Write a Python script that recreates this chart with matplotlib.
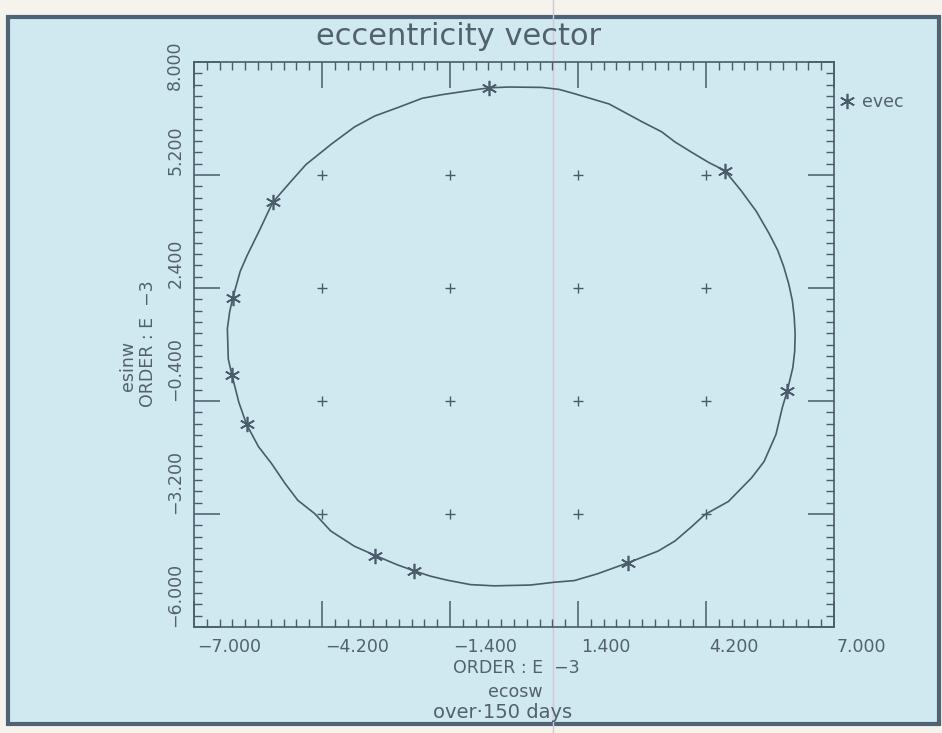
import numpy as np
import matplotlib
matplotlib.use('Agg')
import matplotlib.pyplot as plt
from matplotlib.lines import Line2D
from matplotlib.patches import Rectangle
from matplotlib.ticker import FixedLocator
import matplotlib.transforms as mtrans

# ---------------- data (units of 1e-3) ----------------
orbit_x = [-0.55, -0.11, 0.615, 0.99, 1.336, 2.08, 2.80, 3.23, 3.52, 3.89,
           4.26, 4.61, 4.97, 5.30, 5.58, 5.77, 5.90, 6.01, 6.09, 6.13,
           6.15, 6.14, 6.10, 5.98, 5.87, 5.73, 5.47, 5.20, 4.69, 4.18,
           3.87, 3.52, 3.15, 2.49, 1.83, 1.32, 0.89, 0.36, -0.43, -0.95,
           -1.46, -1.83, -2.18, -2.55, -3.03, -3.49, -4.01, -4.36, -4.73, -5.01,
           -5.31, -5.59, -5.85, -6.02, -6.08, -6.17, -6.25, -6.27, -6.22, -6.15,
           -5.99, -5.84, -5.55, -5.28, -4.88, -4.55, -3.99, -3.49, -3.05, -2.52,
           -2.01, -1.58, -0.98]
orbit_y = [7.36, 7.38, 7.37, 7.32, 7.21, 6.96, 6.52, 6.27, 6.02, 5.76,
           5.51, 5.31, 4.81, 4.30, 3.75, 3.33, 2.93, 2.50, 2.08, 1.68,
           1.26, 0.83, 0.43, -0.14, -0.56, -1.23, -1.90, -2.30, -2.89, -3.21,
           -3.53, -3.87, -4.12, -4.41, -4.68, -4.85, -4.89, -4.96, -4.98, -4.95,
           -4.84, -4.74, -4.61, -4.46, -4.23, -4.00, -3.62, -3.19, -2.86, -2.44,
           -1.94, -1.53, -0.98, -0.43, -0.16, 0.24, 0.64, 1.39, 1.81, 2.16,
           2.81, 3.20, 3.87, 4.52, 5.04, 5.46, 5.97, 6.39, 6.66, 6.88,
           7.10, 7.19, 7.29]

evec_x = [-0.55, 4.61, -5.28, -6.15, -6.17, -5.85, 5.98, -3.03, -2.18, 2.49]
evec_y = [7.36, 5.31, 4.52, 2.16, 0.24, -0.98, -0.14, -4.23, -4.61, -4.41]

x_ticks = [-7.0, -4.2, -1.4, 1.4, 4.2, 7.0]
y_ticks = [-6.0, -3.2, -0.4, 2.4, 5.2, 8.0]
x_tick_labels = ['\u22127.000', '\u22124.200', '\u22121.400', '1.400', '4.200', '7.000']
y_tick_labels = ['\u22126.000', '\u22123.200', '\u22120.400', '2.400', '5.200', '8.000']

title = 'eccentricity vector'
x_order = 'ORDER : E  \u22123'
x_name = 'ecosw'
x_note = 'over\u00b7150 days'
y_order = 'ORDER : E  \u22123'
y_name = 'esinw'
series_label = 'evec'

# ---------------- style ----------------
W, H = 942, 733
BG = '#d0e8f0'
PAPER = '#f5f3ec'
BORDER = '#4f6375'
INK = '#4a5b6a'
TEXT = '#52616d'

plt.rcParams['font.family'] = ['DejaVu Sans']


def fx(px):
    return px / W


def fy(py):
    return 1 - py / H


fig = plt.figure(figsize=(W / 100, H / 100), dpi=100, facecolor=PAPER)

# panel background with dark frame
fig.add_artist(Rectangle((fx(8), fy(724)), fx(939) - fx(8), fy(17) - fy(724),
                         transform=fig.transFigure, facecolor=BG,
                         edgecolor=BORDER, lw=3.0, zorder=-2))
# faint vertical crease across the sheet
fig.add_artist(Line2D([fx(553), fx(553)], [0, 1], transform=fig.transFigure,
                      color='#d6c3de', lw=1.0, zorder=-1))

ax = fig.add_axes([fx(194), fy(627), (834 - 194) / W, (627 - 62) / H])
ax.set_facecolor('none')
ax.set_xlim(x_ticks[0], x_ticks[-1])
ax.set_ylim(y_ticks[0], y_ticks[-1])

for s in ax.spines.values():
    s.set_color(INK)
    s.set_linewidth(1.2)

ax.xaxis.set_major_locator(FixedLocator(x_ticks))
ax.yaxis.set_major_locator(FixedLocator(y_ticks))
ax.xaxis.set_minor_locator(FixedLocator(np.linspace(x_ticks[0], x_ticks[-1], 51)))
ax.yaxis.set_minor_locator(FixedLocator(np.linspace(y_ticks[0], y_ticks[-1], 51)))
ax.tick_params(which='both', direction='in', top=True, right=True, color=INK)
ax.tick_params(which='major', length=19, width=1.1)
ax.tick_params(which='minor', length=6, width=1.0)
ax.tick_params(axis='x', which='major', labelsize=12.5, labelcolor=TEXT, pad=8)
ax.tick_params(axis='y', which='major', labelsize=12.5, labelcolor=TEXT, pad=7)

ax.set_xticklabels(x_tick_labels, ha='left')
for lab in ax.get_xticklabels():
    lab.set_transform(lab.get_transform() +
                      mtrans.ScaledTranslation(3 / 100, 0, fig.dpi_scale_trans))
ax.set_yticklabels(y_tick_labels[:-1] + [''], rotation=90, va='bottom', ha='right')
# top y label sits lower, clear of the title
ax.text(0, y_ticks[-1], y_tick_labels[-1], rotation=90, ha='right', va='bottom',
        fontsize=12.5, color=TEXT,
        transform=mtrans.offset_copy(ax.get_yaxis_transform(), fig=fig,
                                     x=-10, y=-28, units='dots'))

# grid crosses at interior major tick intersections
gx, gy = np.meshgrid(x_ticks[1:-1], y_ticks[1:-1])
ax.plot(gx.ravel(), gy.ravel(), ls='none', marker='+', ms=7, mew=1.0, color=INK)

# orbit trace
ax.plot(orbit_x + orbit_x[:1], orbit_y + orbit_y[:1], color=INK, lw=1.2,
        solid_joinstyle='round')

# eccentricity vector samples
ax.plot(evec_x, evec_y, ls='none', marker=(6, 2, 0), ms=11, mew=1.2,
        color=INK, label=series_label)

leg = ax.legend(loc='center left', bbox_to_anchor=(fx(838), fy(102)),
                bbox_transform=fig.transFigure, frameon=False, handlelength=1.0,
                handletextpad=0.4, fontsize=12.5, borderpad=0, borderaxespad=0,
                labelcolor=TEXT, numpoints=1)

fig.text(fx(459), fy(45), title, ha='center', va='baseline', fontsize=22, color=TEXT)
fig.text(fx(516), fy(673), x_order, ha='center', va='baseline', fontsize=12.5, color=TEXT)
fig.text(fx(515), fy(697), x_name, ha='center', va='baseline', fontsize=12.5, color=TEXT)
fig.text(fx(503), fy(718), x_note, ha='center', va='baseline', fontsize=14, color=TEXT)
fig.text(fx(148), fy(344), y_order, rotation=90, ha='center', va='center',
         fontsize=12.5, color=TEXT)
fig.text(fx(128), fy(366), y_name, rotation=90, ha='center', va='center',
         fontsize=12.5, color=TEXT)

fig.savefig('out.png', dpi=100, facecolor=PAPER)
